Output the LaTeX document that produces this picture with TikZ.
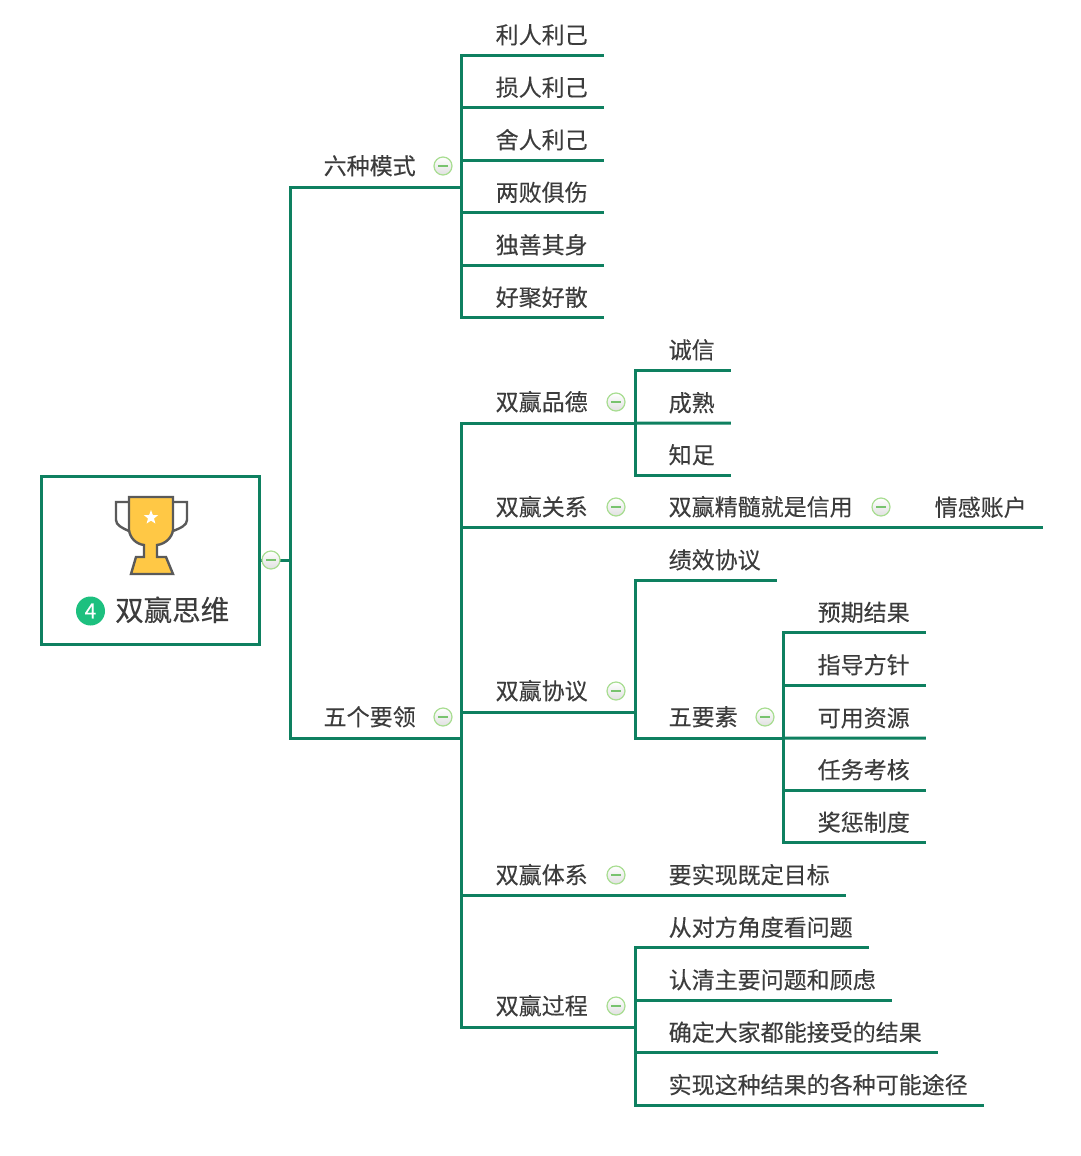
\documentclass[tikz,border=0pt]{standalone}
\usepackage{fontspec}
\setmainfont{Noto Sans CJK SC}[FakeBold=0.25]
\usetikzlibrary{shapes.geometric}
\definecolor{branchgreen}{RGB}{14,128,96}
\definecolor{textgray}{RGB}{60,60,60}
\definecolor{cupyellow}{RGB}{255,200,69}
\definecolor{cupedge}{RGB}{90,90,90}
\definecolor{badgegreen}{RGB}{29,192,127}
\definecolor{btnedge}{RGB}{168,221,145}
\definecolor{btnminus}{RGB}{120,195,110}
\tikzset{
    branch/.style={line width=3pt, draw=branchgreen},
    topic/.style={anchor=west, inner xsep=16pt, inner ysep=0pt, minimum height=40pt, text height=20pt, text depth=3pt, text=textgray, font=\fontsize{23}{23}\selectfont},
    btn/.style={circle, minimum size=18pt, inner sep=0pt, draw=btnedge, line width=1.2pt, top color=white, bottom color=black!12,
        path picture={\draw[btnminus, line width=1.5pt] ([xshift=-5pt]path picture bounding box.center) -- ([xshift=5pt]path picture bounding box.center);}},
}
\begin{document}
\begin{tikzpicture}[x=1pt, y=-1pt]
    \useasboundingbox (0,0) rectangle (1080,1156);

    % Root box
    \node[draw=branchgreen, line width=3pt, minimum width=218pt, minimum height=168pt, inner sep=0pt] (root) at (150,560) {};
    \coordinate (trunk) at (290,560);

    % Trophy
    \draw[cupedge, line width=2.4pt] (129,502) -- (116,502) -- (116,520) .. controls (116,525) and (122,528) .. (129,531);
    \draw[cupedge, line width=2.4pt] (173,502) -- (187,502) -- (187,520) .. controls (187,525) and (181,528) .. (173,531);
    \draw[cupedge, fill=cupyellow, line width=2.4pt] (129,497) -- (173,497) -- (173,530) .. controls (172,538) and (165,544) .. (157,545) -- (157,557) -- (166,557) -- (173,574) -- (131,574) -- (136,557) -- (144,557) -- (144,545) .. controls (136,544) and (130,538) .. (129,530) -- cycle;
    \node[star, star points=5, star point ratio=2.4, fill=white, minimum size=15pt, inner sep=0pt] (cupstar) at (151,517.5) {};

    % Title
    \node[circle, fill=badgegreen, minimum size=29pt, inner sep=0pt, text=white, font=\fontsize{21}{21}\selectfont] (badge) at (90.5,611) {4};
    \node[topic, inner xsep=0pt, font=\fontsize{28.5}{28.5}\selectfont, text height=25pt, text depth=3.5pt] (title) at (115,610) {双赢思维};

    % Six patterns
    \coordinate (liuj) at (461,187);
    \node[topic] (liu) at (307.5,166) {六种模式};
    \node[topic] (li1) at (479.5,35) {利人利己};
    \node[topic] (li2) at (479.5,87.5) {损人利己};
    \node[topic] (li3) at (479.5,140) {舍人利己};
    \node[topic] (li4) at (479.5,192.5) {两败俱伤};
    \node[topic] (li5) at (479.5,245) {独善其身};
    \node[topic] (li6) at (479.5,297.5) {好聚好散};

    % Five essentials
    \coordinate (wuj) at (461,738);
    \node[topic] (wu) at (307.5,717) {五个要领};

    % Win-win character
    \coordinate (pinj) at (635,423);
    \node[topic] (pin) at (479.5,402) {双赢品德};
    \node[topic] (cheng) at (652.5,350) {诚信};
    \node[topic] (shu) at (652.5,403) {成熟};
    \node[topic] (zhi) at (652.5,455) {知足};

    % Win-win relations
    \node[topic] (guan) at (479.5,507) {双赢关系};
    \node[topic] (jing) at (652.5,507) {双赢精髓就是信用};
    \node[topic] (qing) at (918.5,507.5) {情感账户};

    % Win-win agreement
    \coordinate (xiej) at (635,712);
    \coordinate (ysj) at (783,738);
    \node[topic] (xie) at (479.5,691) {双赢协议};
    \node[topic] (ji) at (652.5,560) {绩效协议};
    \node[topic] (ys) at (652.5,717) {五要素};
    \node[topic] (ys1) at (801.5,612.5) {预期结果};
    \node[topic] (ys2) at (801.5,665) {指导方针};
    \node[topic] (ys3) at (801.5,718) {可用资源};
    \node[topic] (ys4) at (801.5,770) {任务考核};
    \node[topic] (ys5) at (801.5,822.5) {奖惩制度};

    % Win-win system
    \node[topic] (ti) at (479.5,875) {双赢体系};
    \node[topic] (mu) at (652.5,875) {要实现既定目标};

    % Win-win process
    \coordinate (guoj) at (635,1027);
    \node[topic] (guo) at (479.5,1006) {双赢过程};
    \node[topic] (bu1) at (652.5,927.5) {从对方角度看问题};
    \node[topic] (bu2) at (652.5,980) {认清主要问题和顾虑};
    \node[topic] (bu3) at (652.5,1032.5) {确定大家都能接受的结果};
    \node[topic] (bu4) at (652.5,1085) {实现这种结果的各种可能途径};

    % Connectors
    \draw[branch] (root.east) -- (trunk);
    \draw[branch] (trunk) |- (liuj);
    \draw[branch] (trunk) |- (wuj);
    \draw[branch] (liuj) |- (li1.south east);
    \draw[branch] (liuj) |- (li2.south east);
    \draw[branch] (liuj) |- (li3.south east);
    \draw[branch] (liuj) |- (li4.south east);
    \draw[branch] (liuj) |- (li5.south east);
    \draw[branch] (liuj) |- (li6.south east);
    \draw[branch] (wuj) |- (pinj);
    \draw[branch] (wuj) |- (qing.south east);
    \draw[branch] (wuj) |- (xiej);
    \draw[branch] (wuj) |- (mu.south east);
    \draw[branch] (wuj) |- (guoj);
    \draw[branch] (pinj) |- (cheng.south east);
    \draw[branch] (pinj) -- (shu.south east);
    \draw[branch] (pinj) |- (zhi.south east);
    \draw[branch] (xiej) |- (ji.south east);
    \draw[branch] (xiej) |- (ysj);
    \draw[branch] (ysj) |- (ys1.south east);
    \draw[branch] (ysj) |- (ys2.south east);
    \draw[branch] (ysj) -- (ys3.south east);
    \draw[branch] (ysj) |- (ys4.south east);
    \draw[branch] (ysj) |- (ys5.south east);
    \draw[branch] (guoj) |- (bu1.south east);
    \draw[branch] (guoj) |- (bu2.south east);
    \draw[branch] (guoj) |- (bu3.south east);
    \draw[branch] (guoj) |- (bu4.south east);

    % Collapse buttons
    \node[btn] (btnroot) at (271,560) {};
    \node[btn] (btnliu) at (443,166) {};
    \node[btn] (btnwu) at (443,717) {};
    \node[btn] (btnpin) at (616,402) {};
    \node[btn] (btnguan) at (616,507) {};
    \node[btn] (btnjing) at (881,507) {};
    \node[btn] (btnxie) at (616,691) {};
    \node[btn] (btnys) at (765,717) {};
    \node[btn] (btnti) at (616,875) {};
    \node[btn] (btnguo) at (616,1006) {};
\end{tikzpicture}
\end{document}
